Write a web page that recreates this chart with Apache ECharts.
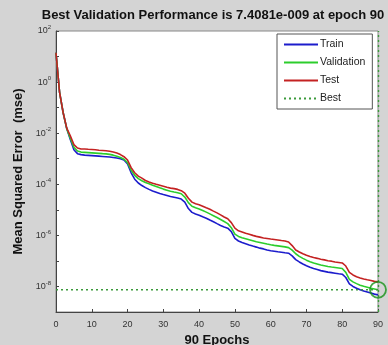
<!DOCTYPE html>
<html>
<head>
<meta charset="utf-8">
<script src="https://cdn.jsdelivr.net/npm/echarts@6/dist/echarts.min.js"></script>
<style>
  html, body { margin: 0; padding: 0; background: #d4d4d4; }
  #chart { width: 388px; height: 345px; }
</style>
</head>
<body>
<div id="chart"></div>
<script>
const epochs = Array.from({ length: 91 }, (_, i) => i)

const train = [
  14.1, 3.98e-1, 6.31e-2, 1.51e-2, 5.62e-3, 2.24e-3, 1.58e-3, 1.45e-3, 1.38e-3, 1.35e-3,
  1.32e-3, 1.29e-3, 1.26e-3, 1.23e-3, 1.20e-3, 1.17e-3, 1.12e-3, 1.07e-3, 1.00e-3, 8.91e-4,
  6.31e-4, 2.82e-4, 1.58e-4, 1.12e-4, 8.91e-5, 7.41e-5, 6.31e-5, 5.50e-5, 4.90e-5, 4.37e-5,
  3.98e-5, 3.63e-5, 3.31e-5, 3.09e-5, 2.88e-5, 2.63e-5, 2.00e-5, 1.12e-5, 7.94e-6, 6.92e-6,
  6.17e-6, 5.37e-6, 4.68e-6, 3.98e-6, 3.39e-6, 2.88e-6, 2.45e-6, 2.14e-6, 1.91e-6, 1.41e-6,
  7.59e-7, 6.03e-7, 5.25e-7, 4.68e-7, 4.17e-7, 3.80e-7, 3.47e-7, 3.16e-7, 2.95e-7, 2.69e-7,
  2.51e-7, 2.40e-7, 2.29e-7, 2.19e-7, 2.09e-7, 2.00e-7, 1.58e-7, 1.12e-7, 9.12e-8, 7.59e-8,
  6.46e-8, 5.62e-8, 5.01e-8, 4.57e-8, 4.17e-8, 3.89e-8, 3.63e-8, 3.47e-8, 3.31e-8, 3.16e-8,
  3.02e-8, 2.24e-8, 1.26e-8, 1.00e-8, 8.51e-9, 7.41e-9, 6.61e-9, 6.03e-9, 5.50e-9, 5.01e-9,
  4.68e-9
]

const validation = [
  14.1, 3.98e-1, 6.31e-2, 1.51e-2, 6.31e-3, 2.82e-3, 2.00e-3, 1.82e-3, 1.78e-3, 1.74e-3,
  1.70e-3, 1.66e-3, 1.62e-3, 1.58e-3, 1.55e-3, 1.48e-3, 1.38e-3, 1.26e-3, 1.12e-3, 9.55e-4,
  7.08e-4, 3.55e-4, 2.24e-4, 1.66e-4, 1.38e-4, 1.17e-4, 1.05e-4, 9.12e-5, 8.13e-5, 7.24e-5,
  6.46e-5, 5.89e-5, 5.37e-5, 5.01e-5, 4.68e-5, 4.27e-5, 3.16e-5, 1.91e-5, 1.38e-5, 1.20e-5,
  1.07e-5, 9.33e-6, 8.13e-6, 6.92e-6, 5.89e-6, 5.01e-6, 4.17e-6, 3.47e-6, 2.88e-6, 2.00e-6,
  1.12e-6, 9.12e-7, 8.13e-7, 7.41e-7, 6.76e-7, 6.17e-7, 5.62e-7, 5.25e-7, 4.90e-7, 4.57e-7,
  4.27e-7, 4.07e-7, 3.89e-7, 3.72e-7, 3.55e-7, 3.31e-7, 2.63e-7, 1.91e-7, 1.51e-7, 1.26e-7,
  1.07e-7, 9.33e-8, 8.32e-8, 7.59e-8, 6.92e-8, 6.46e-8, 6.03e-8, 5.75e-8, 5.50e-8, 5.25e-8,
  5.01e-8, 3.55e-8, 1.91e-8, 1.51e-8, 1.29e-8, 1.12e-8, 1.02e-8, 9.33e-9, 8.51e-9, 7.94e-9,
  7.4081e-9
]

const test = [
  14.1, 3.98e-1, 6.31e-2, 1.58e-2, 7.94e-3, 3.55e-3, 2.63e-3, 2.40e-3, 2.40e-3, 2.34e-3,
  2.29e-3, 2.24e-3, 2.14e-3, 2.09e-3, 2.04e-3, 1.95e-3, 1.82e-3, 1.66e-3, 1.45e-3, 1.20e-3,
  8.91e-4, 4.47e-4, 2.82e-4, 2.09e-4, 1.74e-4, 1.41e-4, 1.23e-4, 1.10e-4, 1.00e-4, 9.12e-5,
  8.32e-5, 7.59e-5, 7.08e-5, 6.76e-5, 6.31e-5, 5.62e-5, 4.47e-5, 2.82e-5, 2.00e-5, 1.74e-5,
  1.58e-5, 1.38e-5, 1.20e-5, 1.05e-5, 8.91e-6, 7.59e-6, 6.31e-6, 5.25e-6, 4.47e-6, 3.16e-6,
  1.91e-6, 1.51e-6, 1.35e-6, 1.20e-6, 1.10e-6, 1.00e-6, 9.12e-7, 8.51e-7, 7.94e-7, 7.59e-7,
  7.24e-7, 6.92e-7, 6.61e-7, 6.31e-7, 6.03e-7, 5.50e-7, 3.98e-7, 2.69e-7, 2.24e-7, 1.91e-7,
  1.66e-7, 1.48e-7, 1.35e-7, 1.26e-7, 1.17e-7, 1.10e-7, 1.02e-7, 9.77e-8, 9.12e-8, 8.71e-8,
  8.32e-8, 6.31e-8, 3.55e-8, 2.82e-8, 2.40e-8, 2.14e-8, 1.95e-8, 1.82e-8, 1.70e-8, 1.58e-8,
  1.51e-8
]

const bestEpoch = 90
const bestValue = 7.4081e-9
// decade exponents on the y axis, bottom to top; only even ones get a label
const yExponents = [-9, -8, -7, -6, -5, -4, -3, -2, -1, 0, 1, 2]

const font = 'Liberation Sans, Arial, sans-serif'

const pairs = (arr) => epochs.map((e, i) => [e, arr[i]])

const chart = echarts.init(document.getElementById('chart'))

chart.setOption({
  backgroundColor: '#d4d4d4',
  animation: false,
  title: {
    text: 'Best Validation Performance is 7.4081e-009 at epoch 90',
    left: 208,
    textAlign: 'center',
    top: 4,
    textStyle: { fontFamily: font, fontSize: 13, fontWeight: 'bold', color: '#111' }
  },
  grid: {
    left: 56, top: 31, right: 10, bottom: 33,
    outerBoundsMode: 'none',
    show: true, backgroundColor: '#fff', borderColor: '#888', borderWidth: 1
  },
  legend: {
    orient: 'vertical',
    left: 277, top: 34,
    padding: [5, 7, 5, 6],
    itemWidth: 34, itemHeight: 12, itemGap: 7,
    backgroundColor: '#fff',
    borderColor: '#555', borderWidth: 1,
    itemStyle: { opacity: 0 },
    textStyle: { fontFamily: font, fontSize: 10.5, color: '#222', padding: [0, 0, 0, -3] },
    data: ['Train', 'Validation', 'Test', 'Best']
  },
  xAxis: {
    type: 'value',
    min: 0, max: 90, interval: 10,
    name: '90 Epochs',
    nameLocation: 'middle',
    nameGap: 20,
    nameTextStyle: { fontFamily: font, fontSize: 13, fontWeight: 'bold', color: '#111' },
    axisLine: { lineStyle: { color: '#444' } },
    axisTick: { inside: true, length: 3, lineStyle: { color: '#444' } },
    axisLabel: { fontFamily: font, fontSize: 9, color: '#333', margin: 8 },
    splitLine: { show: false }
  },
  yAxis: {
    type: 'log',
    logBase: 10,
    min: 1e-9, max: 1e2, interval: 1,
    name: 'Mean Squared Error  (mse)',
    nameLocation: 'middle',
    nameGap: 31,
    nameTextStyle: { fontFamily: font, fontSize: 13, fontWeight: 'bold', color: '#111' },
    axisLine: { lineStyle: { color: '#444' } },
    axisTick: { inside: true, length: 3, lineStyle: { color: '#444' } },
    axisLabel: {
      fontFamily: font, color: '#333', margin: 5,
      formatter: (v, i) => {
        const e = yExponents[i]
        if (e === undefined || e % 2 !== 0) return ''
        return '{b|10}{e|' + e + '}'
      },
      rich: {
        b: { fontFamily: font, fontSize: 9, color: '#333' },
        e: { fontFamily: font, fontSize: 6, color: '#333', padding: [0, 0, 7, 0] }
      }
    },
    splitLine: { show: false }
  },
  series: [
    {
      name: 'Train', type: 'line', symbol: 'none',
      lineStyle: { color: '#1c1ccc', width: 1.6 }, itemStyle: { color: '#1c1ccc' },
      data: pairs(train)
    },
    {
      name: 'Validation', type: 'line', symbol: 'none',
      lineStyle: { color: '#2ccd2c', width: 1.6 }, itemStyle: { color: '#2ccd2c' },
      data: pairs(validation)
    },
    {
      name: 'Test', type: 'line', symbol: 'none',
      lineStyle: { color: '#c42222', width: 1.6 }, itemStyle: { color: '#c42222' },
      data: pairs(test)
    },
    {
      name: 'Best', type: 'line', symbol: 'none',
      lineStyle: { color: '#3a9a3a', width: 1.4, type: [2, 3] }, itemStyle: { color: '#3a9a3a' },
      data: [[0, bestValue], [bestEpoch, bestValue]],
      markLine: {
        silent: true, symbol: 'none', label: { show: false },
        lineStyle: { color: '#3a9a3a', width: 1.4, type: [2, 3] },
        data: [{ xAxis: bestEpoch }]
      }
    },
    {
      name: 'bestCircle', type: 'scatter',
      symbol: 'circle', symbolSize: 16,
      itemStyle: { color: 'rgba(0,0,0,0)', borderColor: '#169216', borderWidth: 1.8 },
      data: [[bestEpoch, bestValue]],
      z: 5
    }
  ]
})
</script>
</body>
</html>
